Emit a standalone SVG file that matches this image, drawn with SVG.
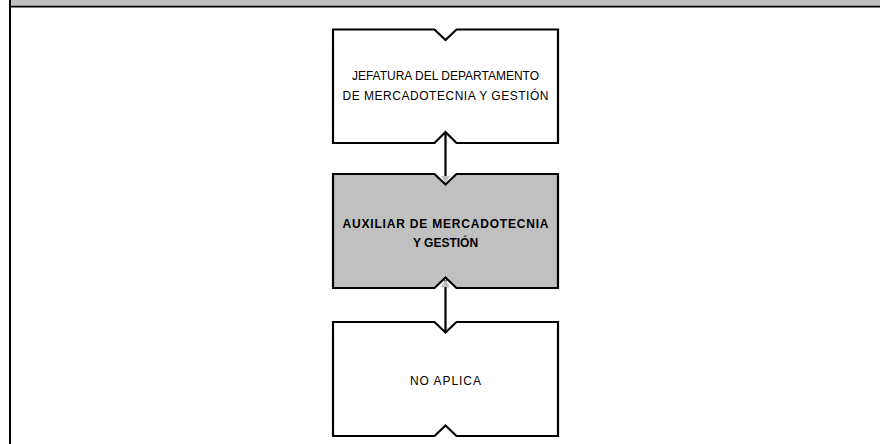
<svg xmlns="http://www.w3.org/2000/svg" width="880" height="444" viewBox="0 0 880 444">
<style>
.box{stroke:#000;stroke-width:2.2;stroke-linejoin:miter}
.w{fill:#fff}
.g{fill:#c0c0c0}
.t{font-family:"Liberation Sans",Arial,sans-serif;font-size:12px;fill:#000;text-anchor:middle}
.b{font-weight:bold}
.con{stroke:#000;stroke-width:2.2;fill:none}
.ah{fill:#c0c0c0;stroke:none}
</style>
<rect x="0" y="0" width="880" height="444" fill="#fff"/>
<g id="frame">
<rect x="11" y="0" width="869" height="6" fill="#c0c0c0"/>
<line x1="9" y1="6.6" x2="880" y2="6.6" stroke="#000" stroke-width="1.8"/>
<line x1="10" y1="0" x2="10" y2="444" stroke="#000" stroke-width="2"/>
</g>
<g id="connectors">
<line class="con" x1="445.5" y1="132" x2="445.5" y2="181"/>
<polygon class="ah" points="441,176 450,176 445.5,183"/>
<line class="con" x1="445.5" y1="280" x2="445.5" y2="333"/>
<polygon class="ah" points="441,287 450,287 445.5,280"/>
</g>
<g id="node1">
<path class="box w" d="M333,29.5 H434.5 L445.5,40 L456.5,29.5 H558 V143 H456.5 L445.5,132 L434.5,143 H333 Z"/>
<text class="t" x="445.5" y="80">JEFATURA DEL DEPARTAMENTO</text>
<text class="t" x="445.5" y="99.5" textLength="206" lengthAdjust="spacing">DE MERCADOTECNIA Y GESTIÓN</text>
</g>
<g id="node2">
<path class="box g" d="M333,174 H434.5 L445.5,184.5 L456.5,174 H558 V288 H456.5 L445.5,277.5 L434.5,288 H333 Z"/>
<text class="t b" x="445.5" y="228" textLength="206" lengthAdjust="spacing">AUXILIAR DE MERCADOTECNIA</text>
<text class="t b" x="445.5" y="247">Y GESTIÓN</text>
</g>
<g id="node3">
<path class="box w" d="M333,322 H434.5 L445.5,332.5 L456.5,322 H558 V436 H456.5 L445.5,425.5 L434.5,436 H333 Z"/>
<text class="t" x="445.5" y="385" textLength="71" lengthAdjust="spacing">NO APLICA</text>
</g>
</svg>
